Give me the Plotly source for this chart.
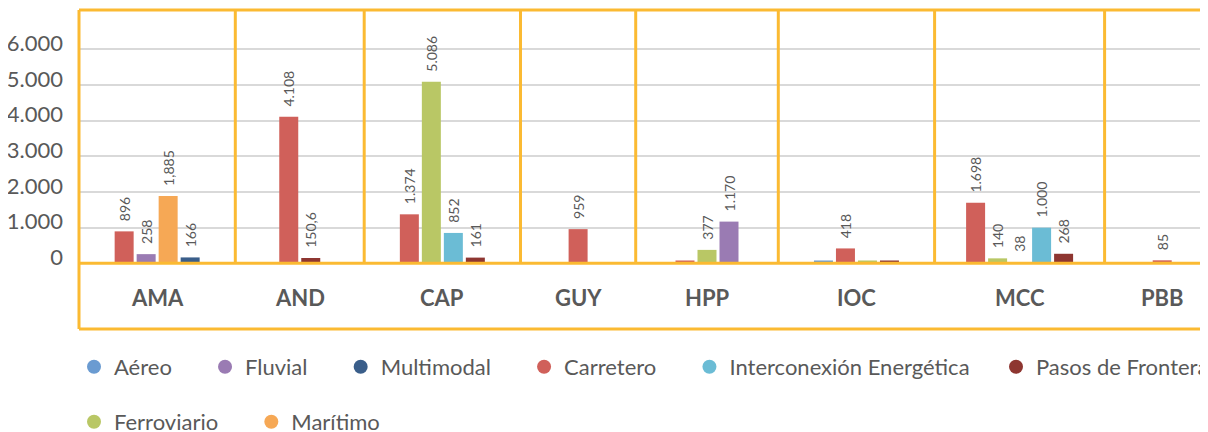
import plotly.graph_objects as go

# ---------------- data ----------------
categories = ["AMA", "AND", "CAP", "GUY", "HPP", "IOC", "MCC", "PBB"]

aereo = [None, None, None, None, None, 80, None, None]
fluvial = [258, None, None, None, 1170, None, 38, None]
multimodal = [166, None, None, None, None, None, None, None]
carretero = [896, 4108, 1374, 959, 80, 418, 1698, 85]
interconexion = [None, None, 852, None, None, None, 1000, None]
pasos_frontera = [None, 150.6, 161, None, None, 80, 268, None]
ferroviario = [None, None, 5086, None, 377, 80, 140, None]
maritimo = [1885, None, None, None, None, None, None, None]

aereo_labels = ["", "", "", "", "", "", "", ""]
fluvial_labels = ["258", "", "", "", "1.170", "", "38", ""]
multimodal_labels = ["166", "", "", "", "", "", "", ""]
carretero_labels = ["896", "4.108", "1.374", "959", "", "418", "1.698", "85"]
interconexion_labels = ["", "", "852", "", "", "", "1.000", ""]
pasos_frontera_labels = ["", "150,6", "161", "", "", "", "268", ""]
ferroviario_labels = ["", "", "5.086", "", "377", "", "140", ""]
maritimo_labels = ["1,885", "", "", "", "", "", "", ""]

y_ticks = [0, 1000, 2000, 3000, 4000, 5000, 6000]

series = [
    ("Aéreo", aereo, aereo_labels),
    ("Fluvial", fluvial, fluvial_labels),
    ("Multimodal", multimodal, multimodal_labels),
    ("Carretero", carretero, carretero_labels),
    ("Interconexión Energética", interconexion, interconexion_labels),
    ("Pasos de Frontera", pasos_frontera, pasos_frontera_labels),
    ("Ferroviario", ferroviario, ferroviario_labels),
    ("Marítimo", maritimo, maritimo_labels),
]

# ---------------- style ----------------
colors = {
    "Aéreo": "#6A9BD1",
    "Fluvial": "#9A7BB3",
    "Multimodal": "#3A5E8A",
    "Carretero": "#D0605A",
    "Interconexión Energética": "#6BBCD5",
    "Pasos de Frontera": "#8E3631",
    "Ferroviario": "#B9C765",
    "Marítimo": "#F6A855",
}
# legend groups: (legend id, items, left x in px, row centre y in px)  -- figure coordinates
legend_groups = [
    ("legend", ["Aéreo", "Fluvial", "Multimodal", "Carretero", "Interconexión Energética"], 66, 359),
    ("legend3", ["Pasos de Frontera"], 988, 359),
    ("legend2", ["Ferroviario", "Marítimo"], 66, 414),
]
TEXT = "#595959"
ORANGE = "#FBBA32"
GRID = "#D9D9D9"
FONT = "Lato"
CELL_BASE, CELL_PER_BAR = 101.5, 13.7
BAR_PITCH, BAR_WIDTH = 22, 19
# the page body adds an 8px margin, so the figure is 8px smaller than the window
W, H = 1200, 424
ML, MR, MT, MB = 71, 0, 2, 103
Y_RANGE = [-1840, 7100]

values_by_name = {n: v for n, v, _ in series}

# cell layout derived from the number of bars present in each category
counts = [sum(values_by_name[n][i] is not None for n in values_by_name) for i in range(len(categories))]
bounds = [0.0]
for c in counts:
    bounds.append(bounds[-1] + CELL_BASE + CELL_PER_BAR * c)
centers = [(bounds[i] + bounds[i + 1]) / 2 for i in range(len(categories))]

slot_order = sorted(values_by_name)
positions = {}
for i in range(len(categories)):
    present = [n for n in slot_order if values_by_name[n][i] is not None]
    for j, n in enumerate(present):
        positions[(n, i)] = centers[i] + (j - (len(present) - 1) / 2) * BAR_PITCH

fig = go.Figure()

for name, vals, labs in series:
    xs, ys, ts = [], [], []
    for i, v in enumerate(vals):
        if v is None:
            continue
        xs.append(positions[(name, i)])
        ys.append(v)
        ts.append(("\u00a0\u00a0" + labs[i]) if labs[i] else "")
    fig.add_trace(go.Bar(
        x=xs, y=ys, text=ts, name=name, width=BAR_WIDTH,
        marker=dict(color=colors[name], line=dict(width=0)),
        textposition="outside", textangle=-90, constraintext="none",
        textfont=dict(family=FONT, size=14, color=TEXT),
        cliponaxis=False, showlegend=False,
    ))

for leg_id, items, _, _ in legend_groups:
    for name in items:
        fig.add_trace(go.Scatter(
            x=[None], y=[None], mode="markers", name=name + "\u00a0" * 5,
            marker=dict(symbol="circle", size=14, color=colors[name]),
            legend=leg_id,
        ))

plot_w = W - ML - MR

shapes = []
for b in bounds[1:]:
    if b < plot_w:
        shapes.append(dict(type="line", xref="x", yref="y", x0=b, x1=b, y0=0, y1=Y_RANGE[1],
                           line=dict(color=ORANGE, width=3), layer="above"))
shapes.append(dict(type="line", xref="paper", yref="y", x0=0, x1=1, y0=0, y1=0,
                   line=dict(color=ORANGE, width=3), layer="above"))
shapes.append(dict(type="line", xref="paper", yref="paper", x0=0, x1=0, y0=0, y1=1,
                   line=dict(color=ORANGE, width=3), layer="above"))
shapes.append(dict(type="line", xref="paper", yref="paper", x0=0, x1=1, y0=1, y1=1,
                   line=dict(color=ORANGE, width=3), layer="above"))
shapes.append(dict(type="line", xref="paper", yref="paper", x0=0, x1=1, y0=0, y1=0,
                   line=dict(color=ORANGE, width=3), layer="above"))

annotations = [
    dict(x=centers[i], y=-945, xref="x", yref="y", text=cat, showarrow=False,
         font=dict(family=FONT, size=22, color=TEXT, weight="bold"), yanchor="middle")
    for i, cat in enumerate(categories)
]

legends = {}
for leg_id, _, lx, ly in legend_groups:
    legends[leg_id] = dict(orientation="h", xref="container", yref="container",
                           x=lx / W, y=1 - ly / H, xanchor="left", yanchor="middle",
                           font=dict(family=FONT, size=22, color=TEXT),
                           bgcolor="rgba(0,0,0,0)", borderwidth=0)

fig.update_layout(
    width=W, height=H,
    margin=dict(l=ML, r=MR, t=MT, b=MB, pad=0),
    paper_bgcolor="white", plot_bgcolor="white",
    barmode="overlay",
    separators=",.",
    xaxis=dict(range=[0, plot_w], showticklabels=False, showgrid=False, zeroline=False,
               showline=False, ticks=""),
    yaxis=dict(range=Y_RANGE, tickvals=y_ticks,
               ticktext=[f"{v:,}".replace(",", ".") for v in y_ticks],
               showgrid=True, gridcolor=GRID, gridwidth=2, zeroline=False, showline=False,
               ticks="", tickfont=dict(family=FONT, size=22, color=TEXT),
               ticklabelstandoff=15, ticklabelshift=-6),
    shapes=shapes,
    annotations=annotations,
    showlegend=True,
    **legends,
)

fig.write_html("out.html")
